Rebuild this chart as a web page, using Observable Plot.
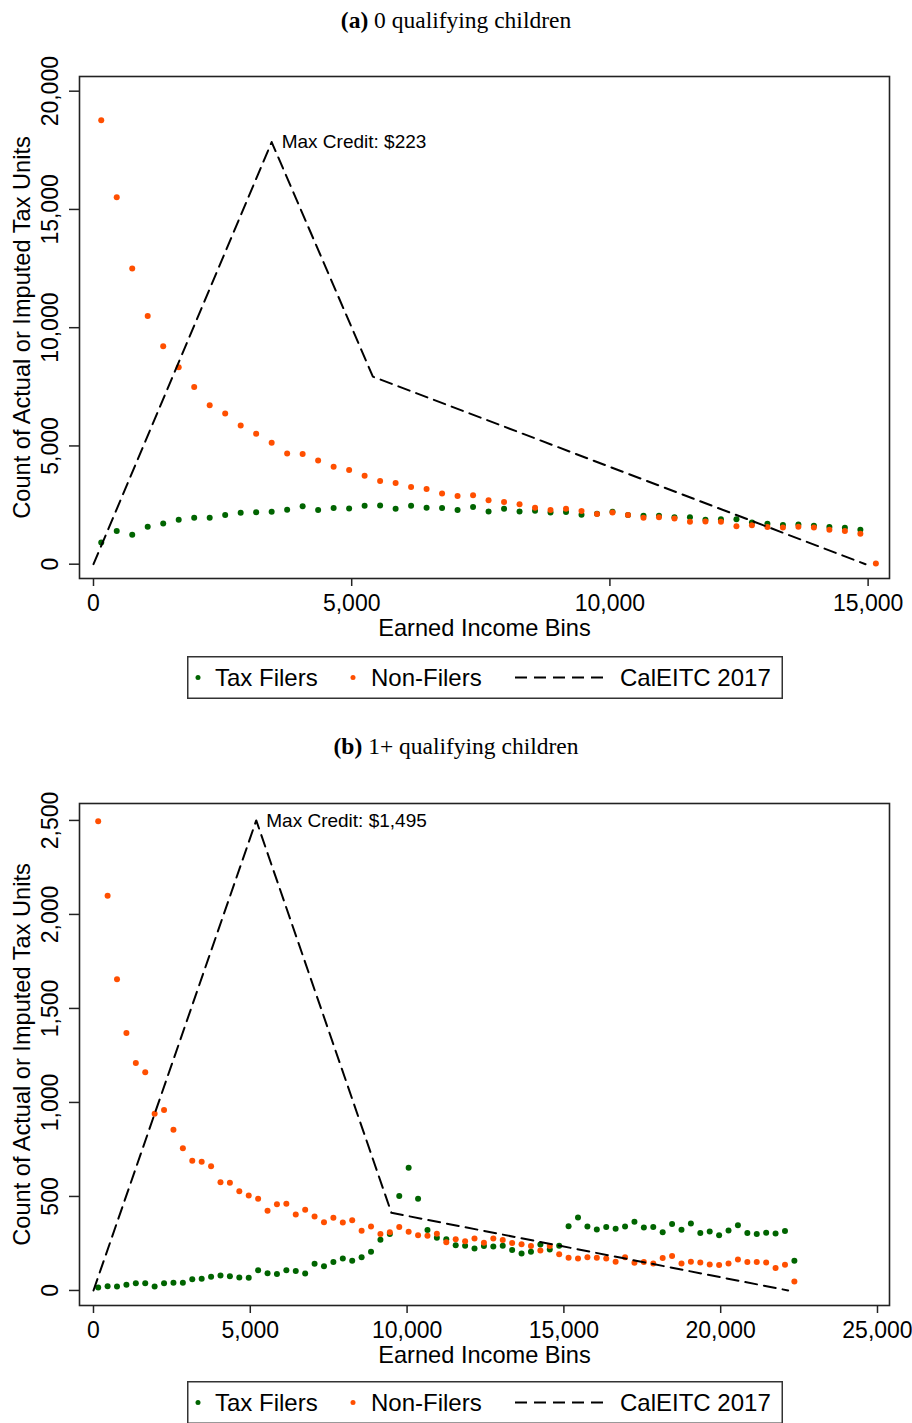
<!DOCTYPE html>
<html><head><meta charset="utf-8">
<script src="https://cdn.jsdelivr.net/npm/d3@7"></script>
<script src="https://cdn.jsdelivr.net/npm/@observablehq/plot@0.6"></script>
<style>
body{margin:0;background:#fff;}
#page{position:relative;width:912px;height:1423px;overflow:hidden;background:#fff;font-family:"Liberation Sans",Arial,sans-serif;}
.title{position:absolute;left:0;width:912px;text-align:center;font-family:"Liberation Serif","Times New Roman",serif;font-size:23.5px;line-height:26px;color:#000;z-index:5;}
.panel{position:absolute;left:0;z-index:1;}
.legend{position:absolute;left:187px;z-index:5;}
</style></head>
<body><div id="page"></div>
<script>
// ---------- Panel (a): 0 qualifying children ----------
const binsA = [150,450,750,1050,1350,1650,1950,2250,2550,2850,3150,3450,3750,4050,4350,4650,4950,5250,5550,5850,6150,6450,6750,7050,7350,7650,7950,8250,8550,8850,9150,9450,9750,10050,10350,10650,10950,11250,11550,11850,12150,12450,12750,13050,13350,13650,13950,14250,14550,14850,15150];
const filersA = [920,1400,1245,1580,1720,1880,1960,1960,2075,2175,2200,2220,2300,2445,2290,2375,2360,2470,2485,2345,2470,2385,2375,2290,2415,2230,2345,2230,2260,2190,2205,2090,2135,2220,2075,2050,2050,1990,1990,1880,1895,1895,1765,1710,1655,1680,1625,1570,1540,1455];
const nonFilersA = [18770,15520,12500,10490,9210,8330,7490,6720,6370,5860,5520,5130,4680,4660,4380,4120,3980,3740,3520,3430,3260,3180,2990,2880,2920,2700,2630,2530,2390,2290,2345,2250,2120,2190,2080,1960,1980,1935,1795,1810,1795,1600,1650,1570,1555,1580,1555,1455,1400,1285,30];
const creditXA = [0,3450,5410,14950];
const creditYA = [0,17850,7930,0];
const xTicksA = [0,5000,10000,15000];
const yTicksA = [0,5000,10000,15000,20000];
const maxCreditA = "Max Credit: $223";
const titleA = "0 qualifying children";

// ---------- Panel (b): 1+ qualifying children ----------
const binsB = [150,450,750,1050,1350,1650,1950,2250,2550,2850,3150,3450,3750,4050,4350,4650,4950,5250,5550,5850,6150,6450,6750,7050,7350,7650,7950,8250,8550,8850,9150,9450,9750,10050,10350,10650,10950,11250,11550,11850,12150,12450,12750,13050,13350,13650,13950,14250,14550,14850,15150,15450,15750,16050,16350,16650,16950,17250,17550,17850,18150,18450,18750,19050,19350,19650,19950,20250,20550,20850,21150,21450,21750,22050,22350];
const filersB = [16,23,21,30,39,39,21,39,41,41,59,62,73,80,76,69,67,108,92,87,108,103,90,142,129,151,170,158,177,206,270,300,502,652,488,321,280,273,241,238,223,236,234,238,215,197,206,245,218,238,342,388,340,324,337,328,340,365,335,338,309,353,323,356,305,314,293,319,347,305,300,307,303,316,158];
const nonFilersB = [2495,2100,1655,1370,1210,1160,940,960,855,757,690,684,660,576,573,528,505,488,424,459,461,404,429,394,363,387,362,374,317,340,300,309,337,312,293,291,301,257,273,262,277,254,277,268,252,246,236,213,236,193,174,170,176,174,170,153,177,147,151,144,172,183,144,153,149,138,135,144,165,151,151,149,119,137,48];
const creditXB = [0,5190,9500,22150];
const creditYB = [0,2500,413,0];
const xTicksB = [0,5000,10000,15000,20000,25000];
const yTicksB = [0,500,1000,1500,2000,2500];
const maxCreditB = "Max Credit: $1,495";
const titleB = "1+ qualifying children";

// ---------- Shared text ----------
const xLabel = "Earned Income Bins";
const yLabel = "Count of Actual or Imputed Tax Units";
const legendLabels = ["Tax Filers", "Non-Filers", "CalEITC 2017"];
const GREEN = "#006400";
const ORANGE = "#ff4f00";
const SANS = "'Liberation Sans', Arial, Helvetica, sans-serif";

function panel({bins, filers, nonFilers, creditX, creditY, maxLabel, xDomain, yDomain, xTicks, yTicks, height, marginTop, marginBottom}) {
  const filerRows = filers.map((v, i) => ({x: bins[i], y: v}));
  const nonRows = nonFilers.map((v, i) => ({x: bins[i], y: v}));
  const credit = creditX.map((x, i) => ({x, y: creditY[i]}));
  const peak = credit[d3.maxIndex(credit, d => d.y)];
  const fmt = d3.format(",");
  return Plot.plot({
    width: 912, height,
    marginLeft: 79, marginRight: 23, marginTop, marginBottom,
    x: {domain: xDomain},
    y: {domain: yDomain},
    style: {fontFamily: SANS, fontSize: "22px", background: "transparent", color: "#000", overflow: "visible"},
    marks: [
      Plot.axisX({ticks: xTicks, tickSize: 8, tickPadding: 8, tickFormat: fmt, fontSize: 23, label: null, strokeWidth: 1.5, stroke: "#222"}),
      Plot.axisY({ticks: yTicks, tickSize: 10, tickFormat: () => "", label: null, strokeWidth: 1.5, stroke: "#222"}),
      Plot.text(yTicks, {y: d => d, frameAnchor: "left", dx: -29, rotate: -90, textAnchor: "middle", lineAnchor: "middle", text: d => fmt(d), fontSize: 23}),
      Plot.text([xLabel], {frameAnchor: "bottom", dy: 50, textAnchor: "middle", lineAnchor: "middle", fontSize: 23.6}),
      Plot.text([yLabel], {frameAnchor: "left", dx: -57, rotate: -90, textAnchor: "middle", lineAnchor: "middle", fontSize: 23.6}),
      Plot.dot(filerRows, {x: "x", y: "y", r: 3, fill: GREEN}),
      Plot.dot(nonRows, {x: "x", y: "y", r: 3, fill: ORANGE}),
      Plot.line(credit, {x: "x", y: "y", stroke: "#000", strokeWidth: 2, strokeDasharray: "12,7"}),
      Plot.text([peak], {x: "x", y: "y", text: () => maxLabel, textAnchor: "start", lineAnchor: "middle", dx: 10, fontSize: 19}),
      Plot.frame({stroke: "#222", strokeWidth: 1.6})
    ]
  });
}

function legend(top) {
  const w = 596, h = 43;
  const svg = d3.create("svg").attr("width", w).attr("height", h).attr("class", "legend")
    .style("top", top + "px").style("font-family", SANS).style("font-size", "24px");
  svg.append("rect").attr("x", 0.75).attr("y", 0.75).attr("width", w - 1.5).attr("height", h - 1.5)
    .attr("fill", "#fff").attr("stroke", "#333").attr("stroke-width", 1.5);
  const cy = h / 2, base = cy + 8.5;
  svg.append("circle").attr("cx", 11).attr("cy", cy).attr("r", 2.5).attr("fill", GREEN);
  svg.append("text").attr("x", 28).attr("y", base).text(legendLabels[0]);
  svg.append("circle").attr("cx", 166).attr("cy", cy).attr("r", 2.5).attr("fill", ORANGE);
  svg.append("text").attr("x", 184).attr("y", base).text(legendLabels[1]);
  svg.append("line").attr("x1", 328).attr("x2", 418).attr("y1", cy).attr("y2", cy)
    .attr("stroke", "#000").attr("stroke-width", 2).attr("stroke-dasharray", "12,7");
  svg.append("text").attr("x", 433).attr("y", base).text(legendLabels[2]);
  return svg.node();
}

function title(top, letter, text) {
  const d = document.createElement("div");
  d.className = "title";
  d.style.top = top + "px";
  const b = document.createElement("b");
  b.textContent = "(" + letter + ")";
  d.appendChild(b);
  d.appendChild(document.createTextNode(" " + text));
  return d;
}

const page = document.getElementById("page");
const pa = panel({bins: binsA, filers: filersA, nonFilers: nonFilersA, creditX: creditXA, creditY: creditYA,
  maxLabel: maxCreditA, xDomain: [-271, 15414], yDomain: [-605, 20621], xTicks: xTicksA, yTicks: yTicksA,
  height: 640, marginTop: 76, marginBottom: 62});
pa.classList.add("panel"); pa.style.top = "0px";
page.appendChild(pa);
page.appendChild(title(7, "a", titleA));
page.appendChild(legend(656));

const pb = panel({bins: binsB, filers: filersB, nonFilers: nonFilersB, creditX: creditXB, creditY: creditYB,
  maxLabel: maxCreditB, xDomain: [-446, 25383], yDomain: [-80, 2590], xTicks: xTicksB, yTicks: yTicksB,
  height: 640, marginTop: 75, marginBottom: 63});
pb.classList.add("panel"); pb.style.top = "728px";
page.appendChild(pb);
page.appendChild(title(733, "b", titleB));
page.appendChild(legend(1381));
</script>
</body></html>
